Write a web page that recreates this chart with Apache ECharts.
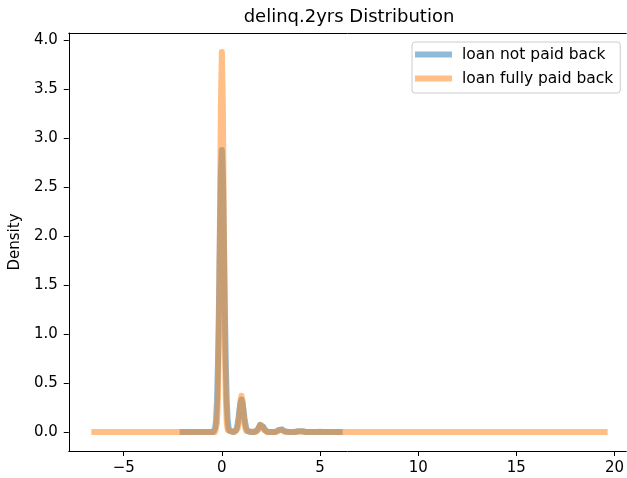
<!DOCTYPE html>
<html>
<head>
<meta charset="utf-8">
<title>delinq.2yrs Distribution</title>
<script src="https://cdn.jsdelivr.net/npm/echarts@6/dist/echarts.min.js"></script>
<style>
  html, body { margin: 0; padding: 0; background: #fff; }
  #chart { width: 627px; height: 478px; }
</style>
</head>
<body>
<div id="chart"></div>
<script>
// Kernel density estimate of delinq.2yrs, split by loan outcome.
const seriesNames = ['loan not paid back', 'loan fully paid back'];

// loan not paid back (not.fully.paid = 1)
const notPaidX = [
  -2.0, -0.45, -0.4, -0.35, -0.3, -0.25, -0.2, -0.15, -0.1, -0.05, 0,
  0.05, 0.1, 0.15, 0.2, 0.25, 0.3, 0.35, 0.4, 0.45, 0.5, 0.55, 0.6,
  0.65, 0.7, 0.75, 0.8, 0.85, 0.9, 0.95, 1.0, 1.05, 1.1, 1.15, 1.2,
  1.25, 1.3, 1.35, 1.4, 1.45, 1.6, 1.65, 1.7, 1.75, 1.8, 1.85, 1.9,
  1.95, 2.0, 2.05, 2.1, 2.15, 2.2, 2.25, 2.3, 2.35, 2.4, 2.6, 2.7,
  2.75, 2.8, 2.85, 2.9, 2.95, 3.0, 3.05, 3.1, 3.15, 3.2, 3.25, 3.3,
  3.4, 3.7, 3.8, 3.9, 4.0, 4.1, 4.2, 4.3, 6.0
];
const notPaidY = [
  0, 0, 0.009, 0.035, 0.115, 0.31, 0.69, 1.28, 2.01, 2.63, 2.88,
  2.63, 2.01, 1.28, 0.69, 0.31, 0.115, 0.035, 0.01, 0.002, 0.001, 0, 0.001,
  0.004, 0.013, 0.035, 0.079, 0.147, 0.23, 0.30, 0.33, 0.30, 0.23, 0.147, 0.079,
  0.035, 0.013, 0.004, 0.001, 0, 0, 0.001, 0.003, 0.008, 0.019, 0.036, 0.056,
  0.073, 0.08, 0.073, 0.056, 0.036, 0.019, 0.008, 0.003, 0.001, 0, 0, 0.001,
  0.003, 0.007, 0.013, 0.021, 0.027, 0.03, 0.027, 0.021, 0.013, 0.007, 0.003, 0.001,
  0, 0, 0.003, 0.008, 0.012, 0.008, 0.003, 0, 0
];

// loan fully paid back (not.fully.paid = 0)
const fullyPaidX = [
  -6.5, -0.35, -0.3, -0.25, -0.2, -0.15, -0.1, -0.05, 0, 0.05, 0.1,
  0.15, 0.2, 0.25, 0.3, 0.35, 0.65, 0.7, 0.75, 0.8, 0.85, 0.9, 0.95,
  1.0, 1.05, 1.1, 1.15, 1.2, 1.25, 1.3, 1.35, 1.7, 1.75, 1.8, 1.85,
  1.9, 1.95, 2.0, 2.05, 2.1, 2.15, 2.2, 2.25, 2.3, 2.75, 2.8, 2.85,
  2.9, 2.95, 3.0, 3.05, 3.1, 3.15, 3.2, 3.25, 3.7, 3.8, 3.9, 4.0,
  4.1, 4.2, 4.3, 4.8, 4.9, 5.0, 5.1, 5.2, 19.5
];
const fullyPaidY = [
  0, 0, 0.02, 0.09, 0.35, 1.00, 2.12, 3.34, 3.88, 3.34, 2.12,
  1.00, 0.35, 0.09, 0.02, 0, 0, 0.002, 0.009, 0.033, 0.095, 0.20, 0.32,
  0.37, 0.32, 0.20, 0.095, 0.033, 0.009, 0.002, 0, 0, 0.002, 0.008, 0.022,
  0.047, 0.073, 0.085, 0.073, 0.047, 0.022, 0.008, 0.002, 0, 0, 0.002, 0.006,
  0.014, 0.021, 0.025, 0.021, 0.014, 0.006, 0.002, 0, 0, 0.001, 0.005, 0.01,
  0.005, 0.001, 0, 0, 0.002, 0.004, 0.002, 0, 0
];

const xTicks = [-5, 0, 5, 10, 15, 20];
const yTicks = [0, 0.5, 1.0, 1.5, 2.0, 2.5, 3.0, 3.5, 4.0];

const FONT = 'DejaVu Sans';
const zip = (xs, ys) => xs.map((x, i) => [x, ys[i]]);

const chart = echarts.init(document.getElementById('chart'), null, { renderer: 'canvas' });

const lineSeries = (name, color, data) => ({
  name,
  type: 'line',
  data,
  showSymbol: false,
  symbol: 'none',
  silent: true,
  color,
  lineStyle: { color, width: 6, opacity: 0.5, cap: 'square', join: 'round' }
});

const X_MIN = -7.8, X_MAX = 20.6;

chart.setOption({
  animation: false,
  backgroundColor: '#ffffff',
  title: {
    text: 'delinq.2yrs Distribution',
    left: 349,
    textAlign: 'center',
    top: 8,
    padding: 0,
    textStyle: { fontFamily: FONT, fontSize: 18, fontWeight: 'normal', color: '#000' }
  },
  legend: {
    orient: 'vertical',
    left: 412,
    top: 42,
    padding: [4, 7, 6, 3],
    itemGap: 7,
    itemWidth: 37,
    itemHeight: 6,
    backgroundColor: 'rgba(255,255,255,0.8)',
    borderColor: '#cccccc',
    borderWidth: 1,
    borderRadius: 3,
    selectedMode: false,
    textStyle: { fontFamily: FONT, fontSize: 15.5, color: '#000', lineHeight: 17, padding: [0, 0, 0, 5] },
    data: [
      { name: seriesNames[0], icon: 'rect', itemStyle: { color: 'rgba(31,119,180,0.5)' } },
      { name: seriesNames[1], icon: 'rect', itemStyle: { color: 'rgba(255,127,14,0.5)' } }
    ]
  },
  grid: {
    left: 68,
    top: 33,
    right: 0,
    height: 418,
    show: false
  },
  xAxis: [
    {
      type: 'value',
      min: X_MIN,
      max: X_MAX,
      splitLine: { show: false },
      axisLine: { show: true, onZero: false, lineStyle: { color: '#000', width: 1 } },
      axisTick: { show: true, length: 5, lineStyle: { color: '#000' }, customValues: xTicks },
      axisLabel: {
        customValues: xTicks,
        margin: 10,
        fontFamily: FONT,
        fontSize: 15,
        color: '#000',
        formatter: v => String(v).replace('-', '\u2212')
      }
    },
    {
      // top spine
      type: 'value',
      position: 'top',
      min: X_MIN,
      max: X_MAX,
      splitLine: { show: false },
      axisLine: { show: true, onZero: false, lineStyle: { color: '#000', width: 1 } },
      axisTick: { show: false },
      axisLabel: { show: false }
    }
  ],
  yAxis: {
    type: 'value',
    min: -0.194,
    max: 4.075,
    name: 'Density',
    nameLocation: 'middle',
    nameGap: 43,
    nameTextStyle: { fontFamily: FONT, fontSize: 15, color: '#000' },
    splitLine: { show: false },
    axisLine: { show: true, onZero: false, lineStyle: { color: '#000', width: 1 } },
    axisTick: { show: true, length: 5, lineStyle: { color: '#000' }, customValues: yTicks },
    axisLabel: {
      customValues: yTicks,
      margin: 11,
      fontFamily: FONT,
      fontSize: 15,
      color: '#000',
      formatter: v => v.toFixed(1)
    }
  },
  series: [
    lineSeries(seriesNames[0], '#1f77b4', zip(notPaidX, notPaidY)),
    lineSeries(seriesNames[1], '#ff7f0e', zip(fullyPaidX, fullyPaidY))
  ]
});
</script>
</body>
</html>
